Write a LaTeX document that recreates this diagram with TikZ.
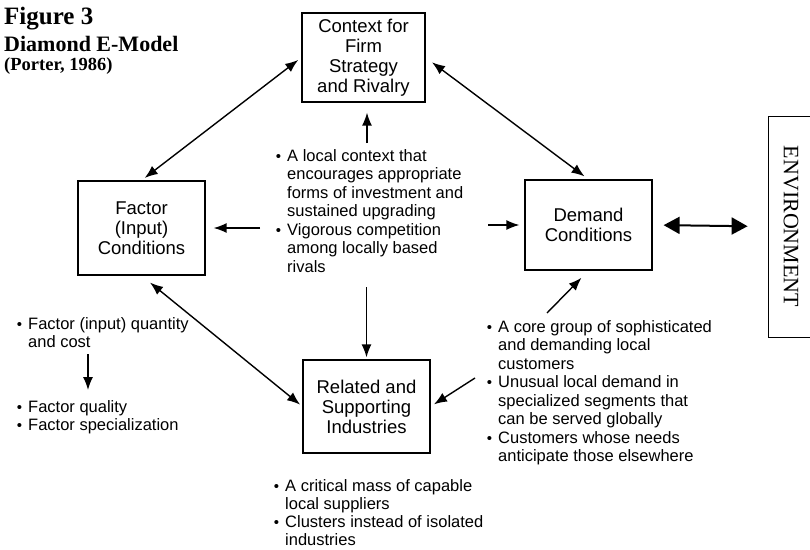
\documentclass[tikz,border=0pt]{standalone}
\usepackage{fontspec}
\setmainfont{Liberation Serif}
\setsansfont{Liberation Sans}
\usetikzlibrary{positioning}
\usetikzlibrary{arrows.meta}
\tikzstyle{block} = [rectangle, draw, line width=1.2pt, align=center,
                font=\sffamily\fontsize{18.5}{20}\selectfont]
\tikzstyle{notes} = [inner sep=0pt, align=left, anchor=north west,
                font=\sffamily\fontsize{16.5}{18.5}\selectfont]
\tikzstyle{title} = [inner sep=0pt, anchor=base west]
\tikzstyle{line} = [draw, line width=1.4pt, -{Latex[length=13pt,width=10pt]}]
\tikzstyle{dline} = [draw, line width=1.4pt, {Latex[length=13pt,width=10pt]}-{Latex[length=13pt,width=10pt]}]
\tikzstyle{bigline} = [draw, line width=2pt, {Triangle[length=16pt,width=17pt]}-{Triangle[length=16pt,width=17pt]}]
\newcommand{\bul}{\llap{\raisebox{0pt}{\fontsize{15}{15}\selectfont\textbullet}\hspace{6pt}}}

\begin{document}
\begin{tikzpicture}[x=1pt,y=-1pt]
            \useasboundingbox (0,0) rectangle (810,549);
            \node[title, font=\bfseries\fontsize{25}{25}\selectfont](fig) at (4,24){Figure 3};
            \node[title, font=\bfseries\fontsize{22}{22}\selectfont](model) at (4,51){Diamond E-Model};
            \node[title, font=\bfseries\fontsize{18.5}{18.5}\selectfont](porter) at (4,70){(Porter, 1986)};
            \node[block, minimum width=123pt, minimum height=89pt](ctx) at (363.5,57.5){Context for\\ Firm\\ Strategy\\ and Rivalry};
            \node[block, minimum width=127pt, minimum height=94pt](fac) at (141.5,228){Factor\\ (Input)\\ Conditions};
            \node[block, minimum width=127pt, minimum height=90pt](dem) at (588.5,225){Demand\\ Conditions};
            \node[block, minimum width=127pt, minimum height=93pt](rel) at (366.5,406.5){Related and\\ Supporting\\ Industries};
            \node[draw, line width=0.8pt, rotate=-90, minimum width=221pt, minimum height=46pt,
                  font=\fontsize{22}{22}\selectfont](env) at (791,226.5){ENVIRONMENT};
            \node[notes](ctxnotes) at (287,149){\bul A local context that\\ encourages appropriate\\ forms of investment and\\ sustained upgrading\\ \bul Vigorous competition\\ among locally based\\ rivals};
            \node[notes](demnotes) at (498,320){\bul A core group of sophisticated\\ and demanding local\\ customers\\ \bul Unusual local demand in\\ specialized segments that\\ can be served globally\\ \bul Customers whose needs\\ anticipate those elsewhere};
            \node[notes, font=\sffamily\fontsize{16.5}{18}\selectfont](relnotes) at (285,479){\bul A critical mass of capable\\ local suppliers\\ \bul Clusters instead of isolated\\ industries};
            \node[notes](qtynotes) at (28,317){\bul Factor (input) quantity\\ and cost};
            \node[notes](qualnotes) at (28,400){\bul Factor quality\\ \bul Factor specialization};
            \coordinate(upt) at (367,143);
            \coordinate(leftt) at (260,228);
            \coordinate(rightt) at (488,225);
            \coordinate(downt) at (366.5,287);
            \coordinate(demt) at (547,313);
            \coordinate(relt) at (475,378);
            \coordinate(qtyt) at (88,0);
            \path[line, shorten >=10pt](upt) -- (upt |- ctx.south);
            \path[line, shorten >=8pt](leftt) -- (fac.east);
            \path[line, shorten >=5pt](rightt) -- (dem.west);
            \path[line, shorten >=2pt](downt) -- (rel.north);
            \path[line, shorten >=10pt](demt) -- (dem.south);
            \path[line, shorten >=4pt](relt) -- (rel.east);
            \path[line, shorten <=6pt, shorten >=10pt](qtynotes.south -| qtyt) -- (qualnotes.north -| qtyt);
            \path[dline, shorten <=4pt, shorten >=4pt](fac.north) -- (ctx.west);
            \path[dline, shorten <=8pt, shorten >=5pt](ctx.east) -- (dem.north);
            \path[dline, shorten <=11pt, shorten >=3pt](fac.south) -- (rel.west);
            \path[bigline, shorten <=11pt, shorten >=20pt](dem.east) -- (env.south);
        \end{tikzpicture}
\end{document}
